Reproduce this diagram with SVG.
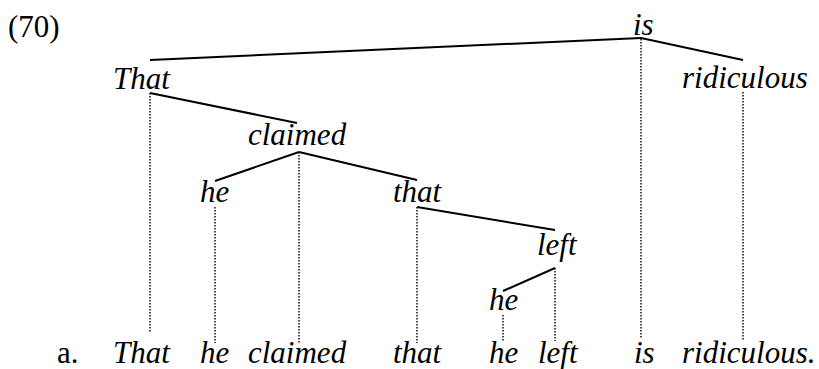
<svg xmlns="http://www.w3.org/2000/svg" width="819" height="369" viewBox="0 0 819 369">
<style>
text{font-family:'Liberation Serif','Times New Roman',serif;font-size:31px;fill:#000}
.it{font-style:italic}
.edge{stroke:#000;stroke-width:2;fill:none}
.dot{stroke:#000;stroke-width:1.4;stroke-dasharray:1.5 1.5;fill:none}
</style>
<rect width="819" height="369" fill="#fff"/>
<text x="8" y="37">(70)</text>
<g id="connectors">
<line class="edge" x1="150" y1="60" x2="641" y2="38"/>
<line class="edge" x1="641" y1="38" x2="743" y2="60"/>
<line class="edge" x1="150" y1="93" x2="297" y2="123"/>
<line class="edge" x1="299" y1="152" x2="215" y2="181"/>
<line class="edge" x1="299" y1="152" x2="417" y2="180"/>
<line class="edge" x1="417" y1="207" x2="555" y2="230"/>
<line class="edge" x1="555" y1="268" x2="503" y2="291"/>
<line class="dot" x1="641" y1="39" x2="641" y2="338"/>
<line class="dot" x1="743" y1="92" x2="743" y2="341"/>
<line class="dot" x1="150" y1="93" x2="150" y2="333"/>
<line class="dot" x1="299" y1="152" x2="299" y2="343"/>
<line class="dot" x1="215" y1="207" x2="215" y2="343"/>
<line class="dot" x1="417" y1="207" x2="417" y2="343"/>
<line class="dot" x1="555" y1="268" x2="555" y2="341"/>
<line class="dot" x1="503" y1="315" x2="503" y2="342"/>
</g>
<g id="n-is"><text class="it" x="633" y="35">is</text></g>
<g id="n-ridiculous"><text class="it" x="682" y="88">ridiculous</text></g>
<g id="n-That"><text class="it" x="113" y="89">That</text></g>
<g id="n-claimed"><text class="it" x="248" y="145">claimed</text></g>
<g id="n-he1"><text class="it" x="200" y="202">he</text></g>
<g id="n-that"><text class="it" x="393" y="202">that</text></g>
<g id="n-left"><text class="it" x="537" y="255">left</text></g>
<g id="n-he2"><text class="it" x="489" y="310">he</text></g>
<g id="sentence">
<text x="57" y="363">a.</text>
<text class="it" x="113" y="363">That</text>
<text class="it" x="200" y="363">he</text>
<text class="it" x="248" y="363">claimed</text>
<text class="it" x="393" y="363">that</text>
<text class="it" x="489" y="363">he</text>
<text class="it" x="538" y="363">left</text>
<text class="it" x="634" y="363">is</text>
<text class="it" x="682" y="363">ridiculous.</text>
</g>
</svg>
